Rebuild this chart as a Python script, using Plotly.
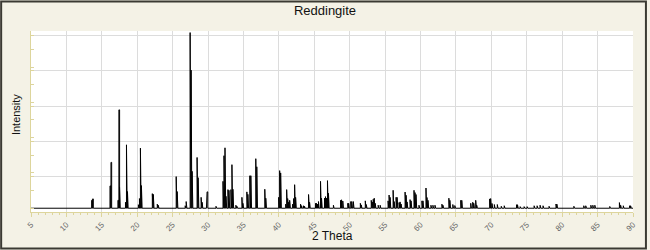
import plotly.graph_objects as go

# Peak positions (2 theta, degrees) and relative intensities (%)
two_theta = [13.61, 13.75, 16.20, 16.34, 17.32, 17.46, 17.55, 18.39, 18.53, 18.67,
             20.21, 20.36, 20.50, 20.64, 22.18, 22.32, 22.88, 23.02, 25.55, 25.69,
             26.82, 26.96, 27.52, 27.66, 27.80, 28.50, 28.65, 29.07, 29.21, 29.82,
             29.91, 31.17, 32.16, 32.30, 32.44, 32.58, 32.86, 33.00, 33.28, 33.42,
             33.56, 33.98, 34.12, 34.83, 34.97, 35.53, 35.67, 35.95, 36.09, 36.79,
             36.93, 38.06, 38.20, 40.02, 40.16, 40.30, 41.01, 41.15, 41.29, 41.43,
             41.57, 41.99, 42.13, 42.27, 42.41, 43.11, 43.25, 43.53, 43.67, 44.24,
             44.38, 45.22, 45.36, 45.50, 45.64, 45.93, 46.07, 46.49, 46.63, 46.77,
             46.91, 47.05, 47.75, 48.76, 48.90, 49.07, 49.78, 49.90, 50.20, 50.34,
             50.56, 51.55, 51.68, 52.25, 52.39, 53.09, 53.23, 53.37, 53.51, 53.65,
             54.07, 54.35, 55.47, 55.61, 55.75, 56.18, 56.32, 56.60, 56.74, 57.02,
             57.16, 57.30, 57.87, 58.01, 58.15, 58.57, 58.71, 59.13, 59.27, 59.41,
             59.83, 60.25, 60.39, 60.82, 60.96, 61.10, 61.52, 61.80, 62.09, 63.07,
             63.21, 64.05, 64.19, 64.61, 64.89, 65.73, 65.87, 67.14, 67.42, 67.56,
             67.84, 67.98, 69.81, 69.95, 70.14, 70.47, 70.89, 71.45, 71.87, 73.60,
             73.74, 74.12, 74.68, 75.10, 76.09, 76.51, 76.93, 77.35, 78.20, 79.18,
             79.30, 81.70, 83.10, 83.38, 84.10, 84.38, 84.66, 86.77, 88.13, 88.30,
             88.68, 89.57, 89.71]
intensity = [4.5, 5.3, 12.7, 26.1, 4.5, 56.0, 12.1, 3.4, 36.1, 9.5,
             2.0, 5.5, 34.2, 12.9, 8.3, 7.9, 2.3, 1.7, 18.0, 9.5,
             1.4, 3.8, 100.0, 78.6, 21.0, 28.9, 17.4, 6.2, 3.4, 9.1,
             9.3, 1.1, 15.3, 29.9, 34.4, 6.8, 10.6, 10.2, 10.6, 24.8,
             10.8, 1.7, 1.1, 6.2, 2.8, 9.3, 7.9, 18.5, 18.5, 28.2,
             23.6, 10.8, 5.7, 6.2, 21.4, 20.1, 2.3, 10.6, 5.5, 3.4,
             4.5, 2.3, 5.5, 13.4, 6.2, 2.3, 1.4, 1.4, 1.1, 7.8,
             3.4, 2.8, 2.8, 2.3, 3.8, 15.3, 5.7, 5.7, 6.6, 5.7,
             15.7, 8.5, 1.7, 4.5, 4.8, 4.1, 2.8, 2.8, 3.8, 3.8,
             3.8, 2.8, 1.9, 4.2, 2.1, 4.5, 3.6, 5.1, 5.7, 2.8,
             1.7, 1.7, 4.2, 7.5, 6.2, 10.2, 3.8, 6.2, 6.2, 3.2,
             3.6, 2.4, 9.2, 7.4, 3.6, 4.9, 4.2, 10.2, 8.9, 7.8,
             1.7, 4.2, 4.2, 11.5, 6.1, 4.5, 1.7, 1.7, 1.7, 2.3,
             1.7, 5.7, 4.5, 2.1, 1.5, 4.5, 4.5, 2.8, 3.4, 2.8,
             4.5, 1.7, 5.3, 5.5, 2.7, 2.1, 2.1, 1.1, 1.4, 2.0,
             2.0, 0.9, 0.9, 0.9, 1.4, 1.4, 1.7, 1.4, 1.1, 2.4,
             2.3, 1.1, 1.4, 1.4, 1.7, 1.7, 1.7, 1.0, 3.2, 1.7,
             1.4, 1.4, 1.4]

x_range = [5, 90]
x_ticks = list(range(5, 91, 5))

# build a stick profile from the peak list
half_w = 0.05
xs, ys = [x_range[0]], [0]
for p, h in zip(two_theta, intensity):
    xs += [p - half_w, p - half_w, p + half_w, p + half_w]
    ys += [0, h, h, 0]
xs.append(x_range[1])
ys.append(0)

fig = go.Figure()
fig.add_trace(go.Scatter(x=xs, y=ys, mode="lines",
                         line=dict(color="black", width=1),
                         hoverinfo="skip", showlegend=False))

axis_col = "#ddd59c"
grid_col = "#dcdcdc"
fig.update_layout(
    width=650, height=250,
    margin=dict(l=31, r=14, t=31, b=38),
    paper_bgcolor="#f4f2e6",
    plot_bgcolor="white",
    font=dict(family="Liberation Sans, Arial, sans-serif", color="#222"),
    title=dict(text="Reddingite", x=0.5, xanchor="center", y=0.96, yanchor="middle",
               font=dict(size=13, color="#111")),
    showlegend=False,
)
fig.update_xaxes(
    range=x_range, tickmode="array", tickvals=x_ticks, ticktext=[str(t) for t in x_ticks],
    tickangle=-45, tickfont=dict(size=8, color="#666"),
    showgrid=True, gridcolor=grid_col, gridwidth=1, zeroline=False,
    showline=True, linecolor=axis_col, linewidth=1,
    ticks="outside", ticklen=4, tickcolor=axis_col,
    minor=dict(dtick=1, ticks="outside", ticklen=2, tickcolor=axis_col, showgrid=False),
)
fig.update_yaxes(
    range=[-2.15, 100.9], tick0=-2.15, dtick=20.1, showticklabels=False,
    showgrid=True, gridcolor=grid_col, gridwidth=1, zeroline=False,
    showline=True, linecolor=axis_col, linewidth=1,
    ticks="inside", ticklen=3, tickcolor=axis_col,
    minor=dict(dtick=10.05, ticks="inside", ticklen=3, tickcolor=axis_col, showgrid=False),
)
fig.add_annotation(text="2 Theta", xref="paper", yref="paper", x=0.5, y=(212.3 - 236) / 181.6,
                   xanchor="center", yanchor="middle", showarrow=False,
                   font=dict(size=12, color="#111"))
fig.add_annotation(text="Intensity", xref="paper", yref="paper", x=(16 - 31) / 605,
                   y=(212.3 - 115) / 181.6,
                   xanchor="center", yanchor="middle", textangle=-90, showarrow=False,
                   font=dict(size=11, color="#111"))
# outer frame
fig.add_shape(type="rect", xref="paper", yref="paper",
              x0=(1 - 31) / 605, x1=(649 - 31) / 605,
              y0=(212.3 - 249) / 181.6, y1=(212.3 - 1) / 181.6,
              line=dict(color="#3b3a33", width=2), fillcolor="rgba(0,0,0,0)", layer="below")
fig.write_html("out.html")
